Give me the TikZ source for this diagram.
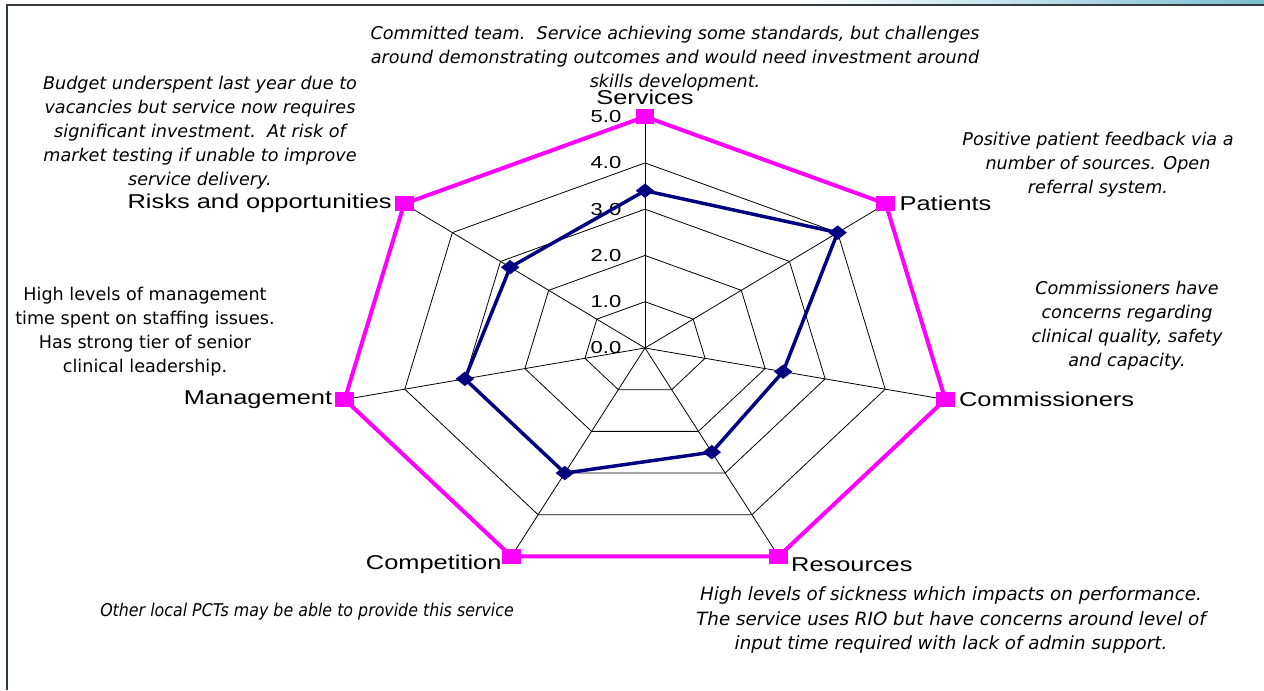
\documentclass[tikz,border=0pt]{standalone}
\usepackage{fontspec}
\setmainfont{Liberation Sans}
\newfontfamily\catfont[FakeStretch=1.27]{Liberation Sans}
\newfontfamily\notefont{DejaVu Sans}
\newfontfamily\narrownotefont[FakeStretch=0.9]{DejaVu Sans}
\usepackage{tikz}
\usetikzlibrary{positioning}
\usetikzlibrary{calc}
\usetikzlibrary{shapes.geometric}

\definecolor{targetPink}{RGB}{255,0,255}
\definecolor{scoreNavy}{RGB}{0,0,128}
\definecolor{bandTeal}{RGB}{122,190,210}
\definecolor{frameGrey}{RGB}{52,58,62}

\begin{document}
\begin{tikzpicture}[x=0.75pt,y=0.75pt]
  \useasboundingbox (0,0) rectangle (1264,690);

  \newdimen\gap
  \gap=2pt

  \tikzstyle{webLine} = [
    draw = black,
    line width = 0.6pt
  ];
  \tikzstyle{targetLine} = [
    draw = targetPink,
    line width = 3pt,
    line join = round
  ];
  \tikzstyle{scoreLine} = [
    draw = scoreNavy,
    line width = 2.6pt,
    line join = round
  ];
  \tikzstyle{targetMark} = [
    % The shape:
    rectangle, minimum width=14pt, minimum height=11pt, inner sep=0pt,
    % The filling:
    fill=targetPink
  ];
  \tikzstyle{scoreMark} = [
    % The shape:
    diamond, minimum width=14pt, minimum height=11pt, inner sep=0pt,
    % The filling:
    fill=scoreNavy
  ];
  \tikzstyle{category} = [
    % Just text!
    inner sep=1pt,
    font=\catfont\fontsize{15}{17}\selectfont
  ];
  \tikzstyle{scaleLabel} = [
    % Just text!
    inner sep=0pt, anchor=east,
    font=\catfont\fontsize{13}{15}\selectfont
  ];
  \tikzstyle{comment} = [
    % Just text!
    align=center, inner sep=0pt,
    font=\notefont\itshape\fontsize{13.2}{18}\selectfont
  ];
  \tikzstyle{plainComment} = [
    % Just text!
    align=center, inner sep=0pt,
    font=\notefont\fontsize{13.2}{18}\selectfont
  ];
  \tikzstyle{frameLine} = [
    draw = frameGrey,
    line width = 1.5pt
  ];

  %% The slide frame:
  \shade [left color=white, right color=bandTeal] (800,685) rectangle (1264,690);
  \draw [frameLine] (7,0) -- (7,685) -- (1264,685);

  \begin{scope}[shift={(645,342)}, x=46.2pt, y=34.7pt]
    %% The web:
    \foreach \r in {1,...,5}
      \draw [webLine] (90:\r) -- (38.571:\r) -- (-12.857:\r) -- (-64.286:\r)
                      -- (-115.714:\r) -- (-167.143:\r) -- (141.429:\r) -- cycle;
    \foreach \a in {90,38.571,-12.857,-64.286,-115.714,-167.143,141.429}
      \draw [webLine] (0,0) -- (\a:5);
    \foreach \r in {0,...,5}
      \node [scaleLabel] (scale\r) at (-0.38,\r) {\r.0};

    %% Target series, all at 5:
    \coordinate (servicesTarget)      at (90:5);
    \coordinate (patientsTarget)      at (38.571:5);
    \coordinate (commissionersTarget) at (-12.857:5);
    \coordinate (resourcesTarget)     at (-64.286:5);
    \coordinate (competitionTarget)   at (-115.714:5);
    \coordinate (managementTarget)    at (-167.143:5);
    \coordinate (risksTarget)         at (141.429:5);

    %% Scored series:
    \coordinate (servicesScore)      at (90:3.4);
    \coordinate (patientsScore)      at (38.571:4.0);
    \coordinate (commissionersScore) at (-12.857:2.3);
    \coordinate (resourcesScore)     at (-64.286:2.5);
    \coordinate (competitionScore)   at (-115.714:3.0);
    \coordinate (managementScore)    at (-167.143:3.0);
    \coordinate (risksScore)         at (141.429:2.8);
  \end{scope}

  \path [targetLine] (servicesTarget) -- (patientsTarget) -- (commissionersTarget)
                     -- (resourcesTarget) -- (competitionTarget)
                     -- (managementTarget) -- (risksTarget) -- cycle;
  \node [targetMark] (servicesMark)      at (servicesTarget) {};
  \node [targetMark] (patientsMark)      at (patientsTarget) {};
  \node [targetMark] (commissionersMark) at (commissionersTarget) {};
  \node [targetMark] (resourcesMark)     at (resourcesTarget) {};
  \node [targetMark] (competitionMark)   at (competitionTarget) {};
  \node [targetMark] (managementMark)    at (managementTarget) {};
  \node [targetMark] (risksMark)         at (risksTarget) {};

  \path [scoreLine] (servicesScore) -- (patientsScore) -- (commissionersScore)
                    -- (resourcesScore) -- (competitionScore)
                    -- (managementScore) -- (risksScore) -- cycle;
  \node [scoreMark] (servicesDot)      at (servicesScore) {};
  \node [scoreMark] (patientsDot)      at (patientsScore) {};
  \node [scoreMark] (commissionersDot) at (commissionersScore) {};
  \node [scoreMark] (resourcesDot)     at (resourcesScore) {};
  \node [scoreMark] (competitionDot)   at (competitionScore) {};
  \node [scoreMark] (managementDot)    at (managementScore) {};
  \node [scoreMark] (risksDot)         at (risksScore) {};

  %% Category names:
  \node [category, above = \gap of servicesMark] (servicesName) {Services};
  \node [category, right = \gap of patientsMark] (patientsName) {Patients};
  \node [category, right = \gap of commissionersMark] (commissionersName) {Commissioners};
  \node [category, right = 1pt of resourcesMark, yshift=-6pt] (resourcesName) {Resources};
  \node [category, left = -1pt of competitionMark, yshift=-6pt] (competitionName) {Competition};
  \node [category, left = 1pt of managementMark] (managementName) {Management};
  \node [category, left = 1pt of risksMark] (risksName) {Risks and opportunities};

  %% Comments:
  \node [comment] (servicesNote) at (675,631)
        {Committed team.\ \ Service achieving some standards, but challenges\\
         around demonstrating outcomes and would need investment around\\
         skills development.};
  \node [comment] (risksNote) at (200,557)
        {Budget underspent last year due to\\
         vacancies but service now requires\\
         significant investment.\ \ At risk of\\
         market testing if unable to improve\\
         service delivery.};
  \node [comment] (patientsNote) at (1098,525)
        {Positive patient feedback via a\\
         number of sources. Open\\
         referral system.};
  \node [comment] (commissionersNote) at (1127,364)
        {Commissioners have\\
         concerns regarding\\
         clinical quality, safety\\
         and capacity.};
  \node [plainComment] (managementNote) at (145,358)
        {High levels of management\\
         time spent on staffing issues.\\
         Has strong tier of senior\\
         clinical leadership.};
  \node [comment, font=\narrownotefont\itshape\fontsize{13.2}{18}\selectfont]
        (competitionNote) at (307,78)
        {Other local PCTs may be able to provide this service};
  \node [comment, font=\notefont\itshape\fontsize{13.7}{18.5}\selectfont]
        (resourcesNote) at (951,70)
        {High levels of sickness which impacts on performance.\\
         The service uses RIO but have concerns around level of\\
         input time required with lack of admin support.};
\end{tikzpicture}
\end{document}
